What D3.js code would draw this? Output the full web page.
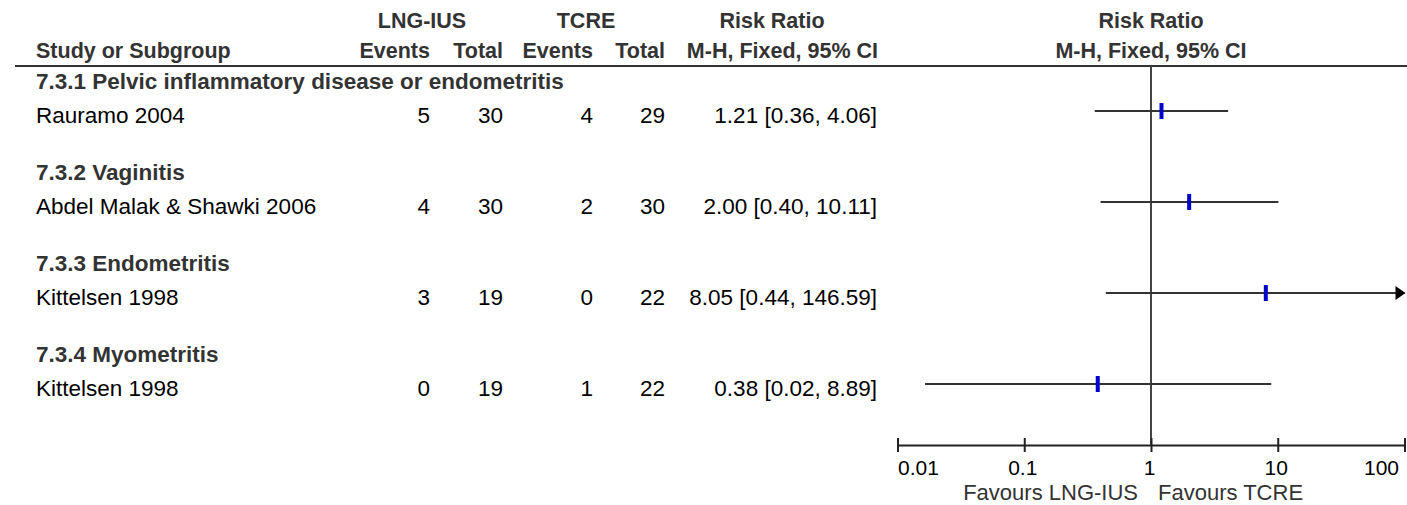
<!DOCTYPE html>
<html>
<head>
<meta charset="utf-8">
<script src="https://cdn.jsdelivr.net/npm/d3@7"></script>
<style>
  html, body { margin: 0; padding: 0; background: #fff; }
  svg { display: block; }
  text { font-family: "Liberation Sans", Arial, sans-serif; }
</style>
</head>
<body>
<svg id="chart" width="1407" height="505"></svg>
<script>
// ---- data ----
const subgroups = [
  "7.3.1 Pelvic inflammatory disease or endometritis",
  "7.3.2 Vaginitis",
  "7.3.3 Endometritis",
  "7.3.4 Myometritis"
];
const studies = ["Rauramo 2004", "Abdel Malak & Shawki 2006", "Kittelsen 1998", "Kittelsen 1998"];
const lngEvents = [5, 4, 3, 0];
const lngTotal = [30, 30, 19, 19];
const tcreEvents = [4, 2, 0, 1];
const tcreTotal = [29, 30, 22, 22];
const riskRatio = [1.21, 2.00, 8.05, 0.38];
const ciLow = [0.36, 0.40, 0.44, 0.0165];
const ciHigh = [4.06, 10.11, 146.59, 8.89];
const axisTicks = [0.01, 0.1, 1, 10, 100];
const tickLabels = ["0.01", "0.1", "1", "10", "100"];
const favourLeft = "Favours LNG-IUS";
const favourRight = "Favours TCRE";

// ---- layout ----
const svg = d3.select("#chart");
const x = d3.scaleLog().domain([0.01, 100]).range([897.5, 1404.5]).clamp(true);
const y = d3.scaleLinear().domain([0, 3]).range([111, 384]);  // CI line centre per study row
const axisY = 445, headLineY = 66;
const fmt = d3.format(".2f");

const boldColor = "#333";
const headerSize = "21.5px", groupSize = "22.5px", dataSize = "22.5px";

// ---- header ----
const hdr = svg.append("g").attr("font-weight", "bold").attr("fill", boldColor).attr("font-size", headerSize);
const hdr1 = [["LNG-IUS", 422, "middle"], ["TCRE", 586, "middle"], ["Risk Ratio", 772, "middle"], ["Risk Ratio", 1151, "middle"]];
const hdr2 = [["Study or Subgroup", 36, "start"], ["Events", 430, "end"], ["Total", 503, "end"],
              ["Events", 593, "end"], ["Total", 665, "end"], ["M-H, Fixed, 95% CI", 878, "end"],
              ["M-H, Fixed, 95% CI", 1151, "middle"]];
hdr.selectAll("text.h1").data(hdr1).join("text").attr("class", "h1")
  .attr("x", d => d[1]).attr("y", 28).attr("text-anchor", d => d[2]).text(d => d[0]);
hdr.selectAll("text.h2").data(hdr2).join("text").attr("class", "h2")
  .attr("x", d => d[1]).attr("y", 58).attr("text-anchor", d => d[2]).text(d => d[0]);

svg.append("line").attr("x1", 15).attr("x2", 1407).attr("y1", headLineY).attr("y2", headLineY)
  .attr("stroke", "#333").attr("stroke-width", 2.2);

// ---- null line ----
svg.append("line").attr("x1", x(1)).attr("x2", x(1)).attr("y1", headLineY).attr("y2", axisY)
  .attr("stroke", "#444").attr("stroke-width", 2);

// ---- rows ----
const idx = d3.range(studies.length);
svg.append("g").selectAll("text").data(idx).join("text")
  .attr("x", 36).attr("y", i => y(i) - 22)
  .attr("font-weight", "bold").attr("font-size", groupSize).attr("fill", boldColor)
  .text(i => subgroups[i]);

const rows = svg.append("g").attr("font-size", dataSize).attr("fill", "#000");
const cols = [
  [i => studies[i], 36, "start"],
  [i => lngEvents[i], 430, "end"],
  [i => lngTotal[i], 503, "end"],
  [i => tcreEvents[i], 593, "end"],
  [i => tcreTotal[i], 665, "end"],
  [i => `${fmt(riskRatio[i])} [${fmt(ciLow[i])}, ${fmt(ciHigh[i])}]`, 877, "end"]
];
cols.forEach(c => {
  rows.append("g").selectAll("text").data(idx).join("text")
    .attr("x", c[1]).attr("y", i => y(i) + 12).attr("text-anchor", c[2]).text(c[0]);
});

// CI lines
svg.append("g").selectAll("line").data(idx).join("line")
  .attr("x1", i => x(ciLow[i])).attr("x2", i => x(ciHigh[i]))
  .attr("y1", i => y(i)).attr("y2", i => y(i))
  .attr("stroke", "#333").attr("stroke-width", 2.2);

// arrows for truncated CIs
svg.append("g").selectAll("path").data(idx.filter(i => ciHigh[i] > x.domain()[1])).join("path")
  .attr("d", i => {
    const tx = x(x.domain()[1]) + 1, ty = y(i);
    return `M${tx},${ty}L${tx - 10},${ty - 7}L${tx - 10},${ty + 7}Z`;
  })
  .attr("fill", "#000");

// point estimates
svg.append("g").selectAll("rect").data(idx).join("rect")
  .attr("x", i => x(riskRatio[i]) - 2).attr("y", i => y(i) - 8)
  .attr("width", 4).attr("height", 16).attr("fill", "#0000cc");

// ---- axis ----
const axis = d3.axisBottom(x).tickValues(axisTicks).tickSize(7).tickSizeOuter(0)
  .tickFormat((d, i) => tickLabels[i]);
const ag = svg.append("g").attr("transform", `translate(0,${axisY})`).call(axis);
ag.select(".domain").attr("stroke", "#222").attr("stroke-width", 2);
ag.selectAll(".tick line").attr("y1", -7).attr("y2", 7).attr("stroke", "#222").attr("stroke-width", 2);
ag.selectAll(".tick text")
  .attr("font-family", "'Liberation Sans', Arial, sans-serif")
  .attr("font-size", "21px").attr("fill", "#000").attr("dy", null).attr("y", 30)
  .attr("text-anchor", (d, i) => i === 0 ? "start" : (i === axisTicks.length - 1 ? "end" : "middle"))
  .attr("dx", (d, i) => i === 0 ? 0 : (i === axisTicks.length - 1 ? -6 : -2));

// favours labels
svg.append("text").attr("x", x(1) - 13).attr("y", 500).attr("text-anchor", "end")
  .attr("font-size", "22px").attr("fill", "#333").text(favourLeft);
svg.append("text").attr("x", x(1) + 7).attr("y", 500).attr("text-anchor", "start")
  .attr("font-size", "22px").attr("fill", "#333").text(favourRight);
</script>
</body>
</html>
